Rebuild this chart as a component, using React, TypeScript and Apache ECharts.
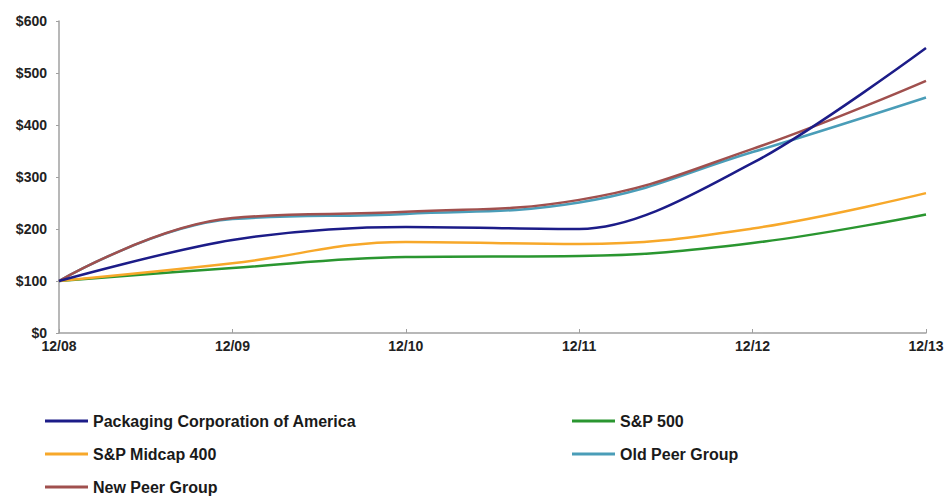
import React, { useEffect, useRef } from "react";
import * as echarts from "echarts";

const categories = ["12/08", "12/09", "12/10", "12/11", "12/12", "12/13"];
const pcaValues = [100, 179, 204, 200, 327, 548];
const sp500Values = [100, 125, 146, 148, 173, 228];
const midcapValues = [100, 134, 175, 171, 201, 269];
const oldPeerValues = [100, 219, 229, 251, 348, 453];
const newPeerValues = [100, 221, 233, 256, 354, 485];
const yTicks = [0, 100, 200, 300, 400, 500, 600];

const seriesNames = [
  "Packaging Corporation of America",
  "S&P 500",
  "S&P Midcap 400",
  "Old Peer Group",
  "New Peer Group",
];
const seriesColors = ["#1c1c88", "#2a9630", "#f7a82a", "#4a9db8", "#a0504e"];
const seriesValues = [pcaValues, sp500Values, midcapValues, oldPeerValues, newPeerValues];
const seriesSmooth = [0.32, 0.4, 0.4, 0.42, 0.42];

export default function App() {
  const ref = useRef<HTMLDivElement>(null);
  useEffect(() => {
    if (!ref.current) return;
    const chart = echarts.init(ref.current, undefined, { renderer: "svg" });
    const font = "Liberation Sans, Arial, sans-serif";
    const legendText = {
      fontFamily: font,
      fontWeight: "bold" as const,
      fontSize: 16,
      color: "#1a1a1a",
      lineHeight: 18,
    };
    // legend placement: [series index, left, row-center y]
    const legendSlots: [number, number, number][] = [
      [0, 45, 421],
      [2, 45, 454],
      [4, 45, 487],
      [1, 572, 421],
      [3, 572, 454],
    ];
    chart.setOption({
      animation: false,
      backgroundColor: "#ffffff",
      grid: { left: 59, right: 25, top: 21, bottom: 163, containLabel: false },
      xAxis: {
        type: "category",
        data: categories,
        boundaryGap: false,
        axisLine: { lineStyle: { color: "#a0a0a0", width: 1.5 } },
        axisTick: { inside: true, length: 4, lineStyle: { color: "#a0a0a0" } },
        axisLabel: {
          color: "#222",
          fontFamily: font,
          fontWeight: "bold",
          fontSize: 14,
          margin: 6,
        },
        splitLine: { show: false },
      },
      yAxis: {
        type: "value",
        min: yTicks[0],
        max: yTicks[yTicks.length - 1],
        interval: 100,
        axisLine: { show: true, lineStyle: { color: "#a0a0a0", width: 1.5 } },
        axisTick: { show: true, length: 3, lineStyle: { color: "#a0a0a0" } },
        axisLabel: {
          color: "#222",
          fontFamily: font,
          fontWeight: "bold",
          fontSize: 14,
          margin: 12,
          formatter: (v: number) => "$" + v,
        },
        splitLine: { show: false },
      },
      legend: legendSlots.map(([idx, left, cy]) => ({
        orient: "horizontal",
        left,
        top: cy - 9,
        icon: "rect",
        itemWidth: 43,
        itemHeight: 3,
        padding: 0,
        textStyle: legendText,
        data: [seriesNames[idx]],
      })),
      series: seriesNames.map((name, i) => ({
        name,
        type: "line",
        data: seriesValues[i],
        smooth: seriesSmooth[i],
        symbol: "none",
        color: seriesColors[i],
        lineStyle: { width: 2.5, color: seriesColors[i] },
        z: i === 0 ? 5 : 2,
      })),
    });
    return () => chart.dispose();
  }, []);
  return (
    <div
      ref={ref}
      style={{ position: "fixed", left: 0, top: 0, width: 951, height: 496 }}
    />
  );
}
